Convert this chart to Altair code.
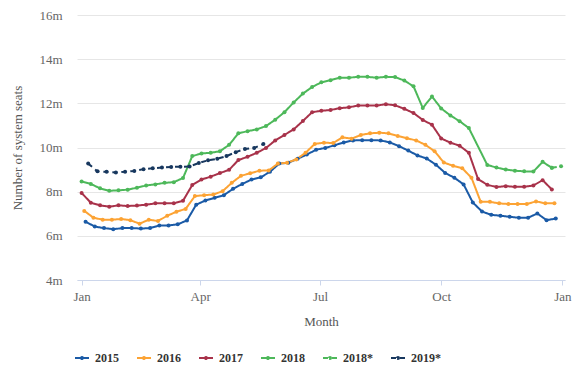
import altair as alt
import pandas as pd

# ---------------- data ----------------
series_names = ["2015", "2016", "2017", "2018", "2018*", "2019*"]
series_colors = ["#1a5aa6", "#fca334", "#a8324a", "#4db85a", "#4db85a", "#17375e"]
series_dash = [[1, 0], [1, 0], [1, 0], [1, 0], [5, 4], [5, 4]]
series_start = ["2015-01-04", "2016-01-03", "2017-01-01", "2018-01-01", "2018-12-24", "2019-01-06"]

seats_2015 = [6.64, 6.42, 6.35, 6.30, 6.35, 6.35, 6.33, 6.35, 6.47, 6.47, 6.52, 6.70, 7.41,
              7.60, 7.72, 7.84, 8.13, 8.35, 8.55, 8.65, 8.90, 9.27, 9.31, 9.49, 9.68, 9.90,
              9.98, 10.10, 10.23, 10.32, 10.33, 10.33, 10.32, 10.23, 10.06, 9.86, 9.64, 9.50,
              9.22, 8.85, 8.63, 8.33, 7.51, 7.10, 6.95, 6.91, 6.86, 6.82, 6.82, 7.01, 6.71, 6.78]
seats_2016 = [7.13, 6.82, 6.73, 6.73, 6.76, 6.71, 6.55, 6.73, 6.67, 6.91, 7.09, 7.22, 7.80,
              7.84, 7.87, 8.02, 8.40, 8.72, 8.83, 8.95, 8.96, 9.27, 9.31, 9.46, 9.76, 10.16,
              10.22, 10.20, 10.46, 10.40, 10.57, 10.64, 10.67, 10.64, 10.52, 10.42, 10.32, 10.12,
              9.83, 9.32, 9.17, 9.06, 8.63, 7.54, 7.54, 7.47, 7.44, 7.44, 7.44, 7.56, 7.47, 7.47]
seats_2017 = [7.94, 7.50, 7.38, 7.32, 7.38, 7.35, 7.37, 7.41, 7.47, 7.47, 7.47, 7.59, 8.30,
              8.55, 8.68, 8.84, 8.99, 9.43, 9.58, 9.76, 9.98, 10.32, 10.57, 10.82, 11.20, 11.60,
              11.66, 11.70, 11.78, 11.82, 11.90, 11.90, 11.90, 11.96, 11.91, 11.75, 11.56, 11.25,
              11.03, 10.41, 10.22, 10.08, 9.76, 8.57, 8.31, 8.21, 8.25, 8.22, 8.22, 8.28, 8.52, 8.10]
seats_2018 = [8.46, 8.35, 8.15, 8.04, 8.06, 8.09, 8.18, 8.28, 8.33, 8.40, 8.43, 8.62, 9.61,
              9.73, 9.76, 9.83, 10.12, 10.64, 10.74, 10.82, 10.97, 11.26, 11.60, 12.04, 12.44, 12.74,
              12.95, 13.05, 13.16, 13.16, 13.20, 13.20, 13.16, 13.20, 13.19, 13.03, 12.77, 11.79,
              12.31, 11.77, 11.45, 11.19, 10.88, None, 9.21, 9.09, 9.00, 8.95, 8.92, 8.91, 9.35, 9.08]
seats_2018_est = [9.08, 9.15]
seats_2019_est = [9.27, 8.92, 8.90, 8.87, 8.90, 8.94, 9.02, 9.06, 9.09, 9.12, 9.13, 9.14, 9.30,
                  9.42, 9.49, 9.61, 9.79, 9.93, 9.98, 10.16]

series_values = [seats_2015, seats_2016, seats_2017, seats_2018, seats_2018_est, seats_2019_est]

month_days = [0, 90, 181, 273, 365]
month_labels = ["Jan", "Apr", "Jul", "Oct", "Jan"]
y_ticks = [4, 6, 8, 10, 12, 14, 16]

# ---------------- table ----------------
rows = []
for name, start, vals in zip(series_names, series_start, series_values):
    dates = pd.date_range(start, periods=len(vals), freq="7D")
    for d, v in zip(dates, vals):
        if v is None:
            continue
        day = (d - pd.Timestamp(year=d.year, month=1, day=1)).days
        rows.append({"series": name, "day": day, "seats": v})
df = pd.DataFrame(rows)

label_expr = "''"
for d, lab in reversed(list(zip(month_days, month_labels))):
    label_expr = f"datum.value == {d} ? '{lab}' : ({label_expr})"

FONT = "Liberation Serif"
legend_path = ("M-1,0L1,0M-0.15,0A0.15,0.15,0,1,1,0.15,0"
               "A0.15,0.15,0,1,1,-0.15,0")

legend = alt.Legend(
    title=None, orient="none", legendX=-3, legendY=335,
    direction="horizontal", columns=6,
    symbolType=legend_path, symbolSize=196, symbolStrokeWidth=2,
    labelFont=FONT, labelFontSize=12, labelFontWeight="bold",
    labelColor="#333333", labelOffset=5, columnPadding=14,
)

chart = alt.Chart(df).mark_line(
    strokeWidth=2, point=alt.OverlayMarkDef(filled=True, size=16)
).encode(
    x=alt.X("day:Q",
            scale=alt.Scale(domain=[-3.5, 367], nice=False, zero=False),
            axis=alt.Axis(values=month_days, labelExpr=label_expr, title="Month",
                          grid=False, domainColor="#ccd6eb", tickColor="#ccd6eb",
                          tickSize=5, labelPadding=5, titleY=41,
                          titleBaseline="middle")),
    y=alt.Y("seats:Q",
            scale=alt.Scale(domain=[4, 16], nice=False, zero=False),
            axis=alt.Axis(values=y_ticks, labelExpr="datum.value + 'm'",
                          title="Number of system seats", domain=False, ticks=False,
                          gridColor="#e6e6e6", labelPadding=15,
                          titleX=-60, titleY=132.5, titleBaseline="middle")),
    color=alt.Color("series:N", scale=alt.Scale(domain=series_names, range=series_colors),
                    legend=legend),
    strokeDash=alt.StrokeDash("series:N",
                              scale=alt.Scale(domain=series_names, range=series_dash),
                              legend=legend),
).properties(
    width=488, height=265,
    autosize=alt.AutoSizeParams(type="none"),
    padding={"left": 69, "top": 7, "right": 7, "bottom": 90},
).configure(
    font=FONT,
).configure_axis(
    labelFont=FONT, labelFontSize=13, labelColor="#666666",
    titleFont=FONT, titleFontSize=13, titleFontWeight="normal", titleColor="#555555",
).configure_view(stroke=None)

chart.save("out.html", embed_options={"renderer": "svg", "actions": False})
